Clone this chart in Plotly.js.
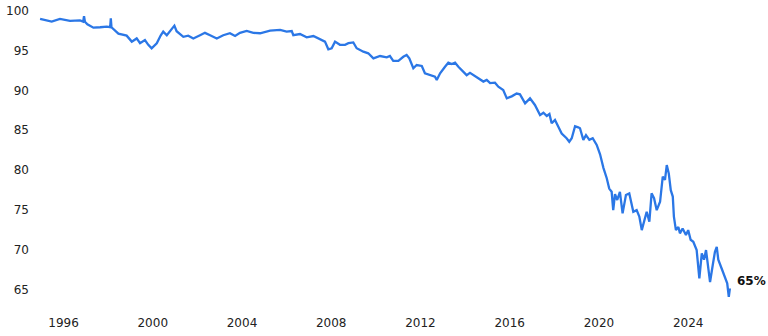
<!DOCTYPE html>
<html>
<head>
<meta charset="utf-8">
<script src="https://cdn.plot.ly/plotly-3.0.1.min.js"></script>
<style>html,body{margin:0;padding:0;background:#fff;}#chart{width:768px;height:336px;}</style>
</head>
<body>
<div id="chart"></div>
<script>
const years = [1994.95,1995.47,1995.84,1996.29,1996.74,1996.88,1996.92,1996.96,1997.07,1997.34,1997.64,1997.94,1998.09,1998.12,1998.15,1998.23,1998.46,1998.83,1999.06,1999.28,1999.43,1999.65,1999.80,1999.95,2000.18,2000.36,2000.47,2000.63,2000.77,2000.97,2001.07,2001.37,2001.59,2001.82,2002.12,2002.34,2002.57,2002.87,2003.16,2003.46,2003.69,2003.91,2004.21,2004.51,2004.81,2005.26,2005.71,2006.00,2006.23,2006.30,2006.60,2006.90,2007.20,2007.50,2007.72,2007.87,2008.02,2008.17,2008.39,2008.62,2008.77,2008.99,2009.14,2009.44,2009.66,2009.89,2010.19,2010.49,2010.63,2010.78,2011.01,2011.23,2011.38,2011.50,2011.68,2011.83,2012.06,2012.20,2012.43,2012.65,2012.73,2012.88,2013.10,2013.25,2013.40,2013.55,2013.70,2013.92,2014.07,2014.22,2014.52,2014.82,2014.97,2015.12,2015.34,2015.49,2015.71,2015.87,2016.09,2016.31,2016.46,2016.69,2016.91,2017.13,2017.36,2017.51,2017.66,2017.78,2017.88,2018.03,2018.18,2018.33,2018.55,2018.67,2018.78,2018.93,2019.07,2019.15,2019.30,2019.42,2019.57,2019.72,2019.90,2020.05,2020.20,2020.35,2020.46,2020.57,2020.64,2020.72,2020.82,2020.94,2021.06,2021.21,2021.36,2021.54,2021.69,2021.81,2021.92,2022.06,2022.14,2022.26,2022.36,2022.47,2022.59,2022.74,2022.86,2022.96,2023.04,2023.13,2023.22,2023.31,2023.36,2023.45,2023.56,2023.63,2023.75,2023.90,2024.00,2024.11,2024.23,2024.38,2024.50,2024.61,2024.71,2024.80,2024.90,2024.98,2025.10,2025.20,2025.28,2025.35,2025.50,2025.65,2025.75,2025.82,2025.87];
const share = [98.94,98.6,98.94,98.7,98.75,98.6,99.3,98.6,98.27,97.85,97.9,97.97,97.9,99.0,97.9,97.7,97.1,96.85,96.1,96.5,95.9,96.3,95.7,95.27,95.9,96.9,97.35,96.9,97.4,98.1,97.4,96.7,96.85,96.5,96.9,97.2,96.9,96.5,96.9,97.15,96.8,97.2,97.43,97.2,97.15,97.47,97.56,97.35,97.43,96.9,97.05,96.64,96.8,96.4,96.1,95.14,95.27,96.1,95.7,95.7,95.9,96.0,95.27,94.84,94.64,94.0,94.3,94.14,94.3,93.7,93.7,94.2,94.43,94.0,92.76,93.17,93.05,92.14,91.9,91.7,91.3,92.14,92.96,93.46,93.3,93.46,92.96,92.34,91.9,92.2,91.7,91.1,91.3,90.9,90.96,90.46,90.05,89.0,89.25,89.6,89.5,88.38,89.0,88.17,86.9,87.2,86.8,87.04,85.88,86.3,85.45,84.6,84.0,83.57,84.0,85.5,85.37,85.25,83.8,84.4,83.8,84.0,83.16,82.0,80.3,79.0,77.7,77.3,75.0,77.0,76.27,77.3,74.6,76.9,77.1,74.8,75.0,74.2,72.5,73.77,74.8,73.55,77.1,76.5,75.0,76.05,79.2,78.8,80.65,79.6,77.5,76.7,74.2,72.5,72.9,72.1,72.7,71.9,72.5,71.3,71.05,70.0,66.46,69.6,68.8,70.0,68.1,66.0,68.1,69.8,70.4,68.8,67.7,66.7,65.84,64.16,65.2];
const xTickVals = [1996,2000,2004,2008,2012,2016,2020,2024];
const xTickText = ["1996","2000","2004","2008","2012","2016","2020","2024"];
const yTickVals = [65,70,75,80,85,90,95,100];
const endLabel = "65%";

const trace = {
  x: years, y: share, type: 'scatter', mode: 'lines',
  line: {color: '#2b77e6', width: 2.3},
  hoverinfo: 'skip'
};
const layout = {
  width: 768, height: 336,
  margin: {l: 30, r: 30, t: 6, b: 22},
  paper_bgcolor: '#fff', plot_bgcolor: '#fff',
  font: {family: 'DejaVu Sans', size: 12, color: '#222'},
  showlegend: false,
  xaxis: {range: [1994.498, 2026.233], showgrid: false, zeroline: false, showline: false,
          ticks: '', tickmode: 'array', tickvals: xTickVals, ticktext: xTickText, fixedrange: true},
  yaxis: {range: [62.0, 100.56], showgrid: false, zeroline: false, showline: false,
          ticks: '', tickmode: 'array', tickvals: yTickVals, ticktext: yTickVals.map(String), fixedrange: true},
  annotations: [{
    x: years[years.length-1], y: 66.1, xref: 'x', yref: 'y', text: '<b>' + endLabel + '</b>',
    showarrow: false, xanchor: 'left', yanchor: 'middle', xshift: 5,
    font: {family: 'DejaVu Sans', size: 12, color: '#111'}
  }]
};
Plotly.newPlot('chart', [trace], layout, {staticPlot: true, displayModeBar: false});
</script>
</body>
</html>
